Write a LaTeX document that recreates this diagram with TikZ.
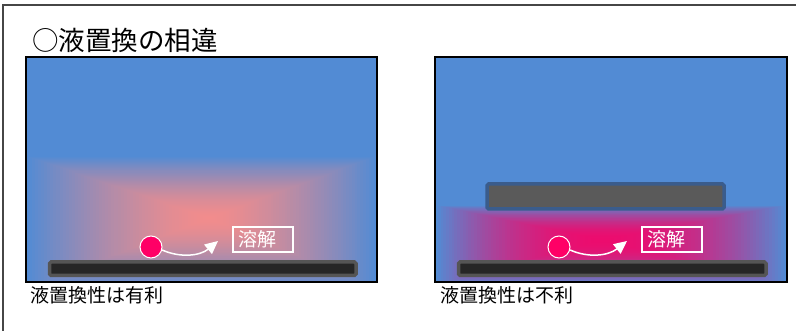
\documentclass[tikz,border=0pt]{standalone}
\usepackage{fontspec}
\newfontfamily\jp{Noto Sans CJK JP}
\usetikzlibrary{arrows.meta}
\definecolor{bluebg}{RGB}{82,139,212}
\definecolor{salmon}{RGB}{242,140,140}
\definecolor{magent}{RGB}{236,12,110}
\definecolor{dotc}{RGB}{255,0,102}
\definecolor{barin}{RGB}{38,38,38}
\definecolor{barout}{RGB}{85,85,85}
\definecolor{plate}{RGB}{90,90,90}
\definecolor{plateedge}{RGB}{58,92,140}
\definecolor{framec}{RGB}{70,70,70}
\tikzset{
  framestyle/.style={draw=framec, line width=1.5pt},
  panel/.style={draw=black, line width=2pt},
  barstyle/.style={fill=barin, draw=barout, line width=3.5pt, rounded corners=1.5pt},
  platestyle/.style={fill=plate, draw=plateedge, line width=3.5pt, rounded corners=1.5pt},
  dotstyle/.style={circle, fill=dotc, draw=white, line width=1pt, minimum size=22pt, inner sep=0pt},
  flow/.style={draw=white, line width=1.5pt, -{Triangle[length=13pt,width=12pt]}},
  lab/.style={draw=white, line width=1.8pt, text=white, font=\jp\fontsize{19}{19}\selectfont,
    text width=50pt, align=left, inner xsep=5pt, inner ysep=0pt, minimum height=25pt},
  caption/.style={anchor=base west, inner sep=0pt, font=\jp\fontsize{19}{19}\selectfont},
  titlestyle/.style={anchor=base west, inner sep=0pt, font=\jp\fontsize{26.5}{26.5}\selectfont}
}
\begin{document}
\begin{tikzpicture}[x=1pt,y=-1pt]
\useasboundingbox (0,0) rectangle (796,331);
\fill[white] (0,0) rectangle (796,331);
\draw[framestyle] (3,331) -- (3,5) -- (796,5);

\node[titlestyle] (title) at (32,51) {○液置換の相違};

% ---------- left panel ----------
\fill[bluebg] (26,57) rectangle (377,282);
\begin{scope}
  \clip (26,57) rectangle (377,282);
  \foreach \i in {0,...,60}{
    \pgfmathsetmacro{\s}{1-\i/60}
    \pgfmathsetmacro{\p}{100*(1-\s^1.5)}
    \fill[salmon!\p!bluebg] ({209-183*\s},{218-62*\s}) rectangle ({209+168*\s},{218+72*\s});
  }
\end{scope}
\draw[panel] (26,57) rectangle (377,282);
\draw[barstyle] (49.5,262) rectangle (356,275.5);
\node[dotstyle] (mL) at (151,247) {};
\coordinate (tL) at (218,241);
\draw[flow] (mL.-15) .. controls (180,258) and (200,256) .. (tL);
\node[lab] (sL) at (263,239.5) {溶解};
\node[caption] (cL) at (30,303) {液置換性は有利};

% ---------- right panel ----------
\fill[bluebg] (435,57) rectangle (787,282);
\begin{scope}
  \clip (435,57) rectangle (787,282);
  \foreach \i in {0,...,60}{
    \pgfmathsetmacro{\s}{1-\i/60}
    \pgfmathsetmacro{\p}{100*(1-\s*\s)}
    \fill[magent!\p!bluebg] ({602-167*\s},{240-35*\s}) rectangle ({602+185*\s},{240+45*\s});
  }
\end{scope}
\draw[panel] (435,57) rectangle (787,282);
\draw[platestyle] (487,184) rectangle (724,209);
\draw[barstyle] (458.5,262) rectangle (766,275.5);
\node[dotstyle] (mR) at (559,247) {};
\coordinate (tR) at (627,241);
\draw[flow] (mR.-15) .. controls (588,258) and (608,256) .. (tR);
\node[lab] (sR) at (672,239.5) {溶解};
\node[caption] (cR) at (440,303) {液置換性は不利};
\end{tikzpicture}
\end{document}
